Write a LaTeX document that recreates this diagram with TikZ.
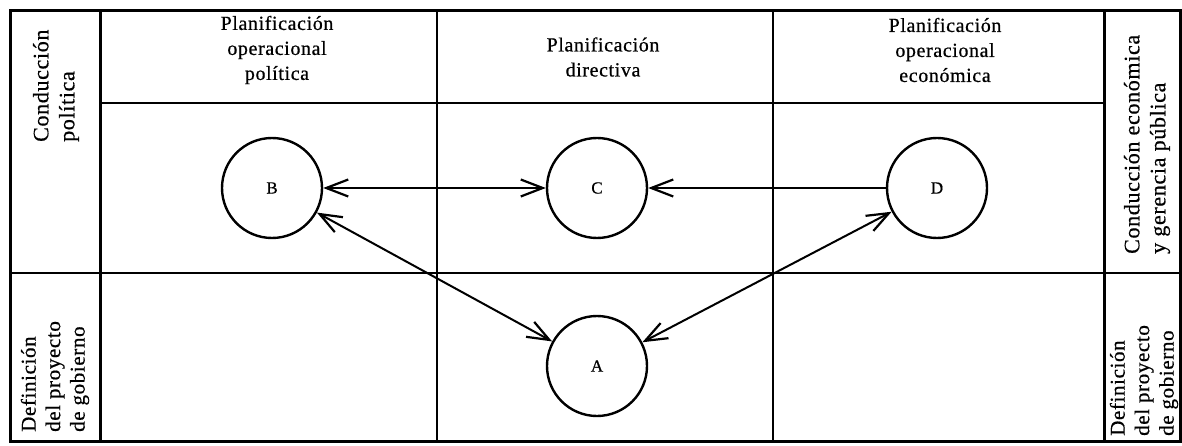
\documentclass[tikz,border=0pt]{standalone}
\usepackage{fontspec}
\setmainfont[LetterSpace=3,FakeBold=0.6]{Liberation Serif}
\usetikzlibrary{arrows.meta}
\begin{document}
\begin{tikzpicture}[x=1pt,y=-1pt,
  frame/.style={line width=3pt},
  grid/.style={line width=2pt},
  hdr/.style={align=center,font=\fontsize{20}{25}\selectfont},
  side/.style={align=left,rotate=90,anchor=west,inner sep=0pt,font=\fontsize{22}{26}\selectfont},
  sidelow/.style={side,font=\fontsize{21}{24.5}\selectfont},
  circ/.style={circle,draw,line width=2.4pt,minimum size=100pt,inner sep=0pt,font=\fontsize{17}{19}\selectfont},
  arr/.style={line width=2pt},
  tip/.tip={Straight Barb[length=22pt,width=17pt,line width=2.2pt]}]
\useasboundingbox (0,0) rectangle (1182,446);
% grid
\draw[grid] (100,103) -- (1104,103);
\draw[grid] (10,273) -- (1180,273);
\draw[grid] (437,11) -- (437,441);
\draw[grid] (773,11) -- (773,441);
\draw[frame] (100,11) -- (100,441);
\draw[frame] (1104,11) -- (1104,441);
\draw[frame] (10,11) rectangle (1180,441);
% headers
\node[hdr] (h1) at (277,50) {Planificación\\operacional\\política};
\node[hdr] (h2) at (603,57) {Planificación\\directiva};
\node[hdr] (h3) at (945,50) {Planificación\\operacional\\económica};
% side labels
\node[side] (s1) at (56,142) {Conducción\\política};
\node[sidelow] (s2) at (55,432) {Definición\\del proyecto\\de gobierno};
\node[side] (s3) at (1147,254) {Conducción económica\\y gerencia pública};
\node[sidelow] (s4) at (1144,436) {Definición\\del proyecto\\de gobierno};
% circles
\node[circ] (B) at (272,188) {B};
\node[circ] (C) at (597,188) {C};
\node[circ] (D) at (937,188) {D};
\node[circ] (A) at (597,366) {A};
% arrows
\draw[arr,tip-tip] (B) -- (C);
\draw[arr,-tip] (D) -- (C);
\draw[arr,tip-tip] (B) -- (A);
\draw[arr,tip-tip] (A) -- (D);
\end{tikzpicture}
\end{document}
